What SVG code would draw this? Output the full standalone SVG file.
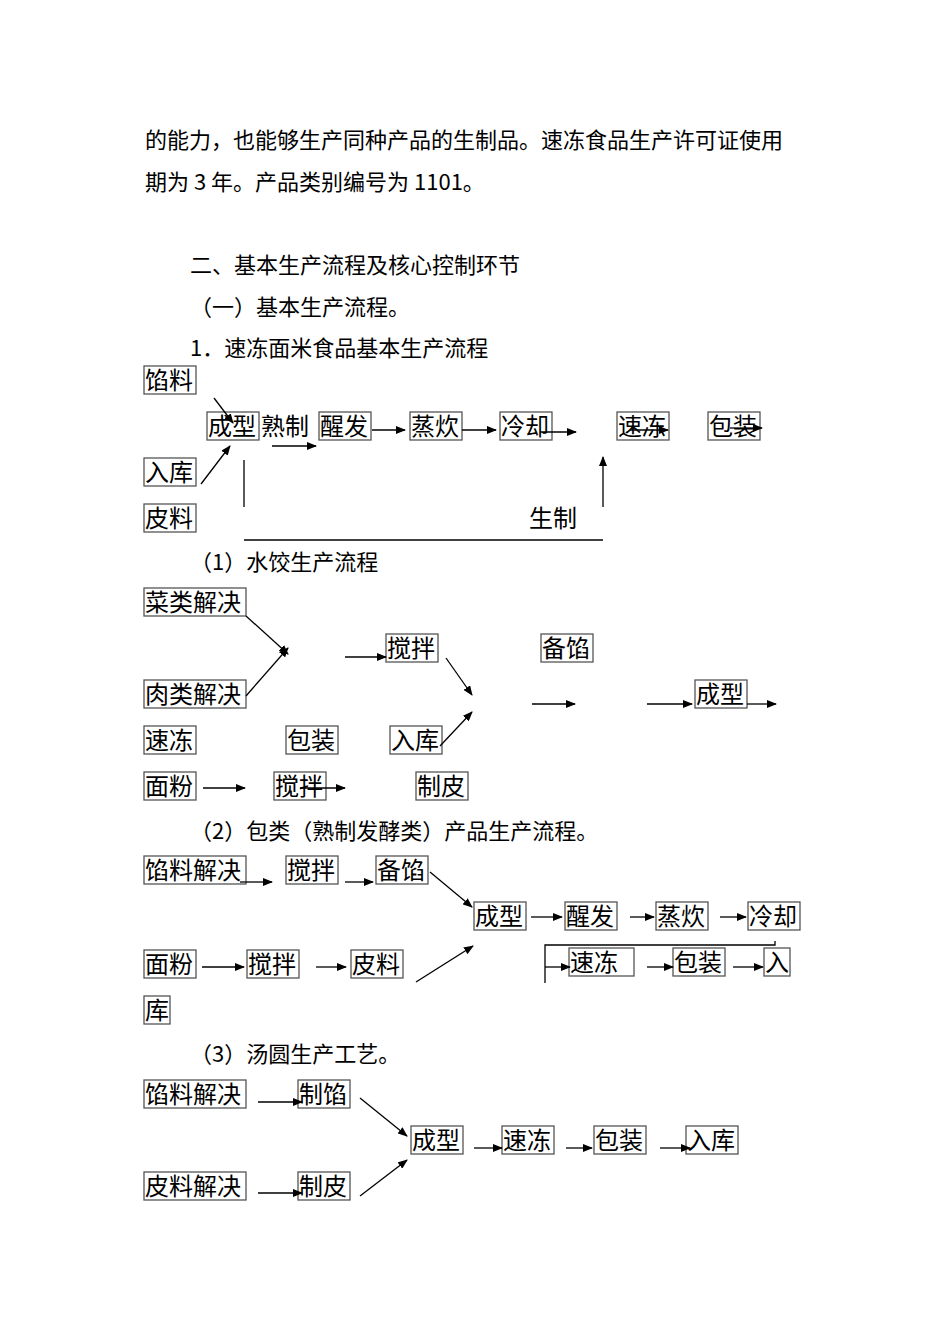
<svg xmlns="http://www.w3.org/2000/svg" width="950" height="1344" viewBox="0 0 950 1344">
<style>
.t{font-family:"Noto Sans CJK SC",sans-serif;font-size:22px;fill:#000}
.b text{font-family:"Noto Sans CJK SC",sans-serif;font-size:24px;fill:#000}
.b rect{fill:none;stroke:#555;stroke-width:1.3}
#conn line,#conn polyline{stroke:#000;stroke-width:1.3;fill:none}
</style>
<defs><marker id="a" markerWidth="10" markerHeight="8" refX="9" refY="4" orient="auto" markerUnits="userSpaceOnUse"><path d="M0,0L10,4L0,8z" fill="#000"/></marker></defs>
<rect width="950" height="1344" fill="#fff"/>
<text class="t" x="145" y="148">的能力，也能够生产同种产品的生制品。速冻食品生产许可证使用</text>
<text class="t" x="145" y="190">期为 3 年。产品类别编号为 1101。</text>
<text class="t" x="190" y="273">二、基本生产流程及核心控制环节</text>
<text class="t" x="190" y="315">（一）基本生产流程。</text>
<text class="t" x="190" y="356">1．速冻面米食品基本生产流程</text>
<text class="t" x="190" y="570">（1）水饺生产流程</text>
<text class="t" x="190" y="839">（2）包类（熟制发酵类）产品生产流程。</text>
<text class="t" x="190" y="1062">（3）汤圆生产工艺。</text>
<g class="b">
<g id="n1"><rect x="144" y="366" width="52" height="28"/><text x="145" y="389">馅料</text></g>
<g id="n2"><rect x="207" y="412" width="52" height="28"/><text x="208" y="435">成型</text></g>
<g id="n3"><text x="261" y="435">熟制</text></g>
<g id="n4"><rect x="319" y="412" width="52" height="28"/><text x="320" y="435">醒发</text></g>
<g id="n5"><rect x="410" y="412" width="52" height="28"/><text x="411" y="435">蒸炊</text></g>
<g id="n6"><rect x="500" y="412" width="52" height="28"/><text x="501" y="435">冷却</text></g>
<g id="n7"><rect x="617" y="412" width="52" height="28"/><text x="618" y="435">速冻</text></g>
<g id="n8"><rect x="708" y="412" width="52" height="28"/><text x="709" y="435">包装</text></g>
<g id="n9"><rect x="144" y="458" width="52" height="28"/><text x="145" y="481">入库</text></g>
<g id="n10"><rect x="144" y="504" width="52" height="28"/><text x="145" y="527">皮料</text></g>
<g id="n11"><text x="529" y="527">生制</text></g>

<g id="s1"><rect x="144" y="588" width="102" height="28"/><text x="145" y="611">菜类解决</text></g>
<g id="s2"><rect x="144" y="680" width="102" height="28"/><text x="145" y="703">肉类解决</text></g>
<g id="s3"><rect x="144" y="726" width="52" height="28"/><text x="145" y="749">速冻</text></g>
<g id="s4"><rect x="286" y="726" width="52" height="28"/><text x="287" y="749">包装</text></g>
<g id="s5"><rect x="390" y="726" width="52" height="28"/><text x="391" y="749">入库</text></g>
<g id="s6"><rect x="144" y="772" width="52" height="28"/><text x="145" y="795">面粉</text></g>
<g id="s7"><rect x="274" y="772" width="52" height="28"/><text x="275" y="795">搅拌</text></g>
<g id="s8"><rect x="416" y="772" width="52" height="28"/><text x="417" y="795">制皮</text></g>
<g id="s9"><rect x="386" y="634" width="52" height="28"/><text x="387" y="657">搅拌</text></g>
<g id="s10"><rect x="541" y="634" width="52" height="28"/><text x="542" y="657">备馅</text></g>
<g id="s11"><rect x="695" y="680" width="52" height="28"/><text x="696" y="703">成型</text></g>

<g id="p1"><rect x="144" y="856" width="102" height="28"/><text x="145" y="879">馅料解决</text></g>
<g id="p2"><rect x="286" y="856" width="52" height="28"/><text x="287" y="879">搅拌</text></g>
<g id="p3"><rect x="376" y="856" width="52" height="28"/><text x="377" y="879">备馅</text></g>
<g id="p4"><rect x="474" y="902" width="52" height="28"/><text x="475" y="925">成型</text></g>
<g id="p5"><rect x="565" y="902" width="52" height="28"/><text x="566" y="925">醒发</text></g>
<g id="p6"><rect x="656" y="902" width="52" height="28"/><text x="657" y="925">蒸炊</text></g>
<g id="p7"><rect x="748" y="902" width="52" height="28"/><text x="749" y="925">冷却</text></g>
<g id="p8"><rect x="144" y="950" width="52" height="28"/><text x="145" y="973">面粉</text></g>
<g id="p9"><rect x="247" y="950" width="52" height="28"/><text x="248" y="973">搅拌</text></g>
<g id="p10"><rect x="351" y="950" width="52" height="28"/><text x="352" y="973">皮料</text></g>
<g id="p11"><rect x="144" y="996" width="26" height="28"/><text x="145" y="1019">库</text></g>
<g id="p12"><rect x="569" y="948" width="65" height="28"/><text x="570" y="971">速冻</text></g>
<g id="p13"><rect x="673" y="948" width="52" height="28"/><text x="674" y="971">包装</text></g>
<g id="p14"><rect x="764" y="948" width="26" height="28"/><text x="765" y="971">入</text></g>

<g id="q1"><rect x="144" y="1080" width="102" height="28"/><text x="145" y="1103">馅料解决</text></g>
<g id="q2"><rect x="298" y="1080" width="52" height="28"/><text x="299" y="1103">制馅</text></g>
<g id="q3"><rect x="411" y="1126" width="52" height="28"/><text x="412" y="1149">成型</text></g>
<g id="q4"><rect x="502" y="1126" width="52" height="28"/><text x="503" y="1149">速冻</text></g>
<g id="q5"><rect x="594" y="1126" width="52" height="28"/><text x="595" y="1149">包装</text></g>
<g id="q6"><rect x="686" y="1126" width="52" height="28"/><text x="687" y="1149">入库</text></g>
<g id="q7"><rect x="144" y="1172" width="102" height="28"/><text x="145" y="1195">皮料解决</text></g>
<g id="q8"><rect x="298" y="1172" width="52" height="28"/><text x="299" y="1195">制皮</text></g>
</g>
<g id="conn">
<line x1="214" y1="398" x2="233" y2="423" marker-end="url(#a)"/>
<line x1="201" y1="484" x2="230" y2="446" marker-end="url(#a)"/>
<line x1="272" y1="446" x2="316" y2="446" marker-end="url(#a)"/>
<line x1="372" y1="430" x2="405" y2="430" marker-end="url(#a)"/>
<line x1="462" y1="430" x2="496" y2="430" marker-end="url(#a)"/>
<line x1="540" y1="432" x2="576" y2="432" marker-end="url(#a)"/>
<line x1="630" y1="430" x2="668" y2="430" marker-end="url(#a)"/>
<line x1="730" y1="428" x2="762" y2="428" marker-end="url(#a)"/>
<line x1="244" y1="460" x2="244" y2="507"/>
<line x1="244" y1="540" x2="603" y2="540"/>
<line x1="603" y1="507" x2="603" y2="457" marker-end="url(#a)"/>

<line x1="246" y1="616" x2="288" y2="654" marker-end="url(#a)"/>
<line x1="246" y1="696" x2="288" y2="648" marker-end="url(#a)"/>
<line x1="345" y1="657" x2="386" y2="657" marker-end="url(#a)"/>
<line x1="446" y1="658" x2="472" y2="695" marker-end="url(#a)"/>
<line x1="440" y1="746" x2="472" y2="712" marker-end="url(#a)"/>
<line x1="532" y1="704" x2="575" y2="704" marker-end="url(#a)"/>
<line x1="647" y1="704" x2="692" y2="704" marker-end="url(#a)"/>
<line x1="747" y1="704" x2="776" y2="704" marker-end="url(#a)"/>
<line x1="203" y1="788" x2="245" y2="788" marker-end="url(#a)"/>
<line x1="300" y1="788" x2="345" y2="788" marker-end="url(#a)"/>

<line x1="240" y1="882" x2="272" y2="882" marker-end="url(#a)"/>
<line x1="345" y1="882" x2="373" y2="882" marker-end="url(#a)"/>
<line x1="430" y1="872" x2="472" y2="907" marker-end="url(#a)"/>
<line x1="531" y1="917" x2="562" y2="917" marker-end="url(#a)"/>
<line x1="630" y1="917" x2="654" y2="917" marker-end="url(#a)"/>
<line x1="720" y1="917" x2="746" y2="917" marker-end="url(#a)"/>
<line x1="202" y1="967" x2="244" y2="967" marker-end="url(#a)"/>
<line x1="316" y1="967" x2="346" y2="967" marker-end="url(#a)"/>
<line x1="416" y1="982" x2="473" y2="946" marker-end="url(#a)"/>
<polyline points="545,983 545,945 775,945 775,941"/>
<line x1="545" y1="967" x2="570" y2="967" marker-end="url(#a)"/>
<line x1="647" y1="967" x2="673" y2="967" marker-end="url(#a)"/>
<line x1="733" y1="967" x2="763" y2="967" marker-end="url(#a)"/>

<line x1="258" y1="1102" x2="302" y2="1102" marker-end="url(#a)"/>
<line x1="360" y1="1098" x2="407" y2="1136" marker-end="url(#a)"/>
<line x1="474" y1="1148" x2="502" y2="1148" marker-end="url(#a)"/>
<line x1="566" y1="1148" x2="592" y2="1148" marker-end="url(#a)"/>
<line x1="660" y1="1148" x2="690" y2="1148" marker-end="url(#a)"/>
<line x1="258" y1="1193" x2="302" y2="1193" marker-end="url(#a)"/>
<line x1="360" y1="1196" x2="407" y2="1160" marker-end="url(#a)"/>
</g>
</svg>
